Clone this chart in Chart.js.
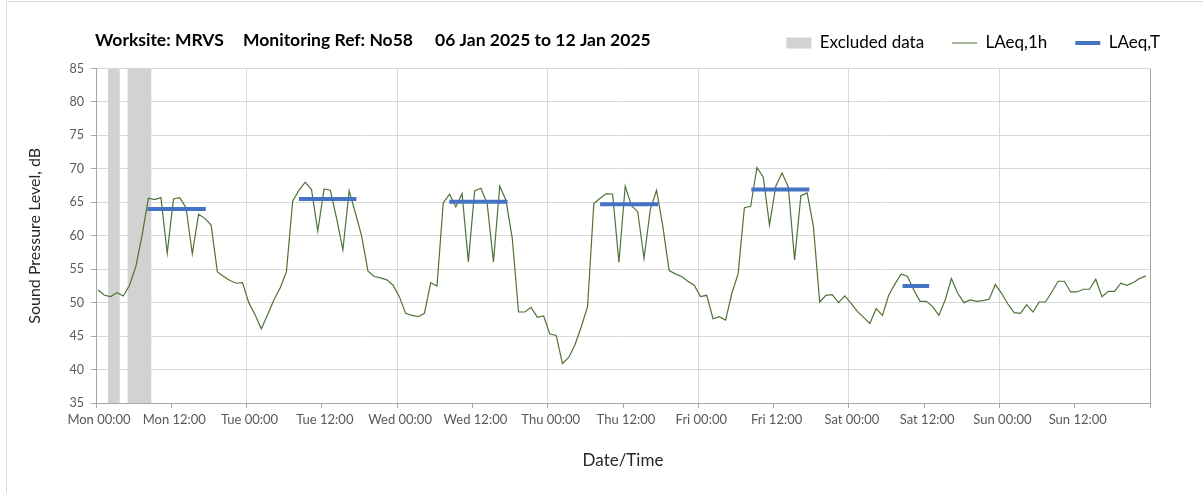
<!DOCTYPE html>
<html>
<head>
<meta charset="utf-8">
<script src="https://cdn.jsdelivr.net/npm/chart.js@4.4.1/dist/chart.umd.min.js"></script>
<style>
html,body{margin:0;padding:0;background:#ffffff;}
#wrap{width:1203px;height:493px;position:relative;}
</style>
</head>
<body>
<div id="wrap"><canvas id="c" width="1203" height="493"></canvas></div>
<script>
// ---------------- DATA ----------------
const titleParts = ['Worksite: MRVS', 'Monitoring Ref: No58', '06 Jan 2025 to 12 Jan 2025'];
const tickLabels = ['Mon 00:00','Mon 12:00','Tue 00:00','Tue 12:00','Wed 00:00','Wed 12:00',
                    'Thu 00:00','Thu 12:00','Fri 00:00','Fri 12:00','Sat 00:00','Sat 12:00',
                    'Sun 00:00','Sun 12:00'];
const yTicks = [35, 40, 45, 50, 55, 60, 65, 70, 75, 80, 85];

// LAeq,1h hourly values, Mon 00:00 .. Sun 23:00
const laeqMon = [51.9,51.1,50.9,51.5,51.0,52.6,55.4,60.1,65.6,65.4,65.7,57.4,65.5,65.7,64.2,57.3,63.2,62.6,61.6,54.6,53.9,53.3,52.9,53.0];
const laeqTue = [50.0,48.2,46.1,48.2,50.4,52.2,54.6,65.2,66.8,68.0,66.9,60.7,67.0,66.8,62.6,57.9,66.7,63.4,59.9,54.7,53.9,53.7,53.4,52.6];
const laeqWed = [50.9,48.4,48.1,47.9,48.4,53.0,52.5,64.9,66.2,64.3,66.3,56.1,66.7,67.1,64.8,56.1,67.4,65.3,59.6,48.6,48.6,49.3,47.8,48.0];
const laeqThu = [45.3,45.1,40.9,41.8,43.7,46.4,49.4,64.8,65.6,66.3,66.2,56.0,67.4,64.5,63.6,56.6,63.9,66.8,61.4,54.8,54.3,53.9,53.2,52.6];
const laeqFri = [50.9,51.1,47.6,47.9,47.4,51.4,54.3,64.2,64.4,70.2,68.8,61.6,67.4,69.4,67.3,56.4,66.0,66.4,61.4,50.1,51.1,51.2,50.0,51.0];
const laeqSat = [49.9,48.7,47.8,46.9,49.1,48.1,51.1,52.8,54.3,53.9,51.9,50.2,50.2,49.4,48.1,50.4,53.6,51.4,50.0,50.4,50.2,50.3,50.5,52.7];
const laeqSun = [51.4,49.8,48.5,48.4,49.7,48.6,50.1,50.1,51.6,53.2,53.2,51.6,51.6,52.0,52.0,53.5,50.9,51.7,51.7,52.9,52.6,53.0,53.6,54.0];
const laeq1h = [].concat(laeqMon, laeqTue, laeqWed, laeqThu, laeqFri, laeqSat, laeqSun);
const firstSampleHour = 0.35;   // hours after Mon 00:00 of the first sample

// LAeq,T period values and their start/end (hours after Mon 00:00)
const laeqT       = [64.0, 65.5, 65.1, 64.7, 66.9, 52.5];
const periodStart = [8.2, 32.35, 56.3, 80.35, 104.45, 128.55];
const periodEnd   = [17.5, 41.5, 65.6, 89.6, 113.7, 132.8];

// Excluded data periods (hours after Mon 00:00)
const excludedStart = [1.9, 5.0];
const excludedEnd   = [3.8, 8.85];

// ---------------- STYLE ----------------
const FONT = 'Lato, "Open Sans", "DejaVu Sans", sans-serif';
const GREEN = '#4f7236';
const BLUE = '#4472c4';
const GREY_BAND = '#d2d2d2';
const GRID = '#d9d9d9';
const AXIS = '#a6a6a6';

const yMin = yTicks[0], yMax = yTicks[yTicks.length - 1];
const hourPoints = laeq1h.map((v, i) => ({x: firstSampleHour + i, y: v}));
const periodPoints = [];
laeqT.forEach((v, i) => {
  periodPoints.push({x: periodStart[i], y: v}, {x: periodEnd[i], y: v}, {x: periodEnd[i], y: null});
});
const excludedSets = excludedStart.map((s, i) => ({
  label: 'Excluded data',
  type: 'line',
  data: [{x: s, y: yMax}, {x: excludedEnd[i], y: yMax}],
  fill: 'start',
  backgroundColor: GREY_BAND,
  borderColor: 'rgba(0,0,0,0)',
  borderWidth: 0,
  pointRadius: 0,
  order: 3
}));

const framePlugin = {
  id: 'frame',
  beforeDraw(chart) {
    const c = chart.ctx;
    c.save();
    c.strokeStyle = '#d9d9d9';
    c.lineWidth = 1;
    c.beginPath();
    c.moveTo(6.5, chart.height);
    c.lineTo(6.5, 1.5);
    c.lineTo(chart.width, 1.5);
    c.stroke();
    c.restore();
  },
  afterDraw(chart) {
    const c = chart.ctx;
    c.save();
    c.fillStyle = '#000000';
    c.font = 'bold 17.5px ' + FONT;
    c.textBaseline = 'middle';
    const xs = [95, 243, 435];
    titleParts.forEach((t, i) => c.fillText(t, xs[i], 40));
    c.restore();
  },
  beforeLayout(chart) {
    const lg = chart.legend;
    if (lg && !lg.__gap) {
      const orig = lg.fit;
      lg.fit = function () { orig.call(this); this.height += 7; };
      lg.__gap = true;
    }
  }
};

new Chart(document.getElementById('c'), {
  type: 'line',
  data: {
    datasets: [
      excludedSets[0],
      excludedSets[1],
      {
        label: 'LAeq,1h',
        data: hourPoints,
        borderColor: GREEN,
        backgroundColor: GREEN,
        borderWidth: 1.2,
        pointRadius: 0,
        tension: 0,
        fill: false,
        order: 2
      },
      {
        label: 'LAeq,T',
        data: periodPoints,
        borderColor: BLUE,
        backgroundColor: BLUE,
        borderWidth: 4,
        pointRadius: 0,
        spanGaps: false,
        fill: false,
        order: 1
      }
    ]
  },
  options: {
    responsive: false,
    animation: false,
    devicePixelRatio: 1,
    layout: {padding: {left: 0, right: 15, top: 6.5, bottom: 0}},
    plugins: {
      tooltip: {enabled: false},
      title: {display: false},
      legend: {
        display: true,
        position: 'top',
        align: 'end',
        labels: {
          usePointStyle: true,
          pointStyleWidth: 25,
          boxHeight: 11,
          padding: 28,
          color: '#262626',
          font: {family: FONT, size: 17},
          generateLabels: () => [
            {text: 'Excluded data', fillStyle: GREY_BAND, strokeStyle: GREY_BAND, lineWidth: 0, pointStyle: 'rect', datasetIndex: 0, hidden: false},
            {text: 'LAeq,1h', fillStyle: GREEN, strokeStyle: GREEN, lineWidth: 1.2, pointStyle: 'line', datasetIndex: 2, hidden: false},
            {text: 'LAeq,T', fillStyle: BLUE, strokeStyle: BLUE, lineWidth: 4, pointStyle: 'line', datasetIndex: 3, hidden: false}
          ]
        }
      }
    },
    scales: {
      x: {
        type: 'linear',
        min: 0,
        max: 168,
        afterFit: s => { s.height = 90; },
        ticks: {
          stepSize: 12,
          autoSkip: false,
          maxRotation: 0,
          padding: 4,
          labelOffset: 3,
          color: '#595959',
          font: {family: FONT, size: 13},
          callback: v => tickLabels[v / 12] !== undefined ? tickLabels[v / 12] : ''
        },
        grid: {
          color: c => {
            if (!c.tick) return 'rgba(0,0,0,0)';
            const v = c.tick.value;
            if (v === 168) return AXIS;
            return (v % 24 === 0 && v > 0) ? GRID : 'rgba(0,0,0,0)';
          },
          tickColor: AXIS,
          tickLength: 5,
          lineWidth: 1
        },
        border: {color: AXIS, width: 1},
        title: {
          display: true,
          text: 'Date/Time',
          color: '#262626',
          font: {family: FONT, size: 17},
          padding: {top: 0, bottom: 22}
        }
      },
      y: {
        min: yMin,
        max: yMax,
        afterFit: s => { s.width = 96; },
        ticks: {
          stepSize: 5,
          padding: 7,
          color: '#595959',
          font: {family: FONT, size: 12.5}
        },
        grid: {color: GRID, tickColor: AXIS, tickLength: 5},
        border: {color: AXIS, width: 1},
        title: {
          display: true,
          text: 'Sound Pressure Level, dB',
          color: '#262626',
          font: {family: FONT, size: 16},
          padding: {top: 25, bottom: 0}
        }
      },
      yRight: {
        position: 'right',
        display: true,
        min: yMin,
        max: yMax,
        afterFit: s => { s.width = 38; },
        ticks: {display: false},
        grid: {display: false, drawTicks: false},
        border: {display: false}
      }
    }
  },
  plugins: [framePlugin]
});
</script>
</body>
</html>
